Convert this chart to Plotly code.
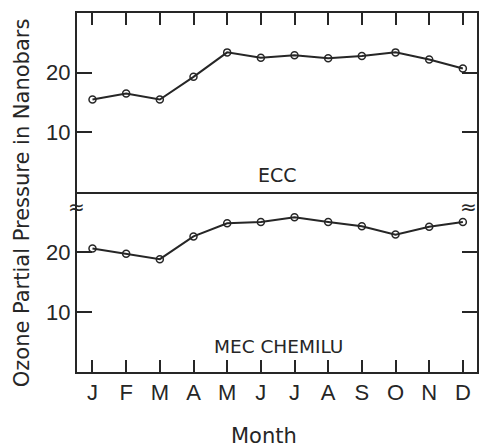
import plotly.graph_objects as go

months = ["J", "F", "M", "A", "M", "J", "J", "A", "S", "O", "N", "D"]
month_idx = list(range(12))
ecc = [15.5, 16.5, 15.5, 19.3, 23.4, 22.5, 22.9, 22.4, 22.8, 23.4, 22.2, 20.7]
mec = [20.6, 19.7, 18.8, 22.6, 24.8, 25.0, 25.8, 25.0, 24.3, 22.9, 24.2, 25.0]
ytick_vals = [10, 20]

W, H = 480, 447
L, R, T, B = 77, 479, 13, 372
MID = 192

def px(x):
    return (x - L) / (R - L)

def py(y):
    return (B - y) / (B - T)

ink = "#262626"
tickfont = dict(family="Liberation Sans Narrow, Liberation Sans, Arial, sans-serif", size=22, color=ink)
textfont = "DejaVu Sans, sans-serif"

fig = go.Figure()
marker = dict(symbol="circle-open", size=7, color=ink, line=dict(width=1.5, color=ink))
fig.add_trace(go.Scatter(x=month_idx, y=ecc, mode="lines+markers", line=dict(color=ink, width=2),
                         marker=marker, xaxis="x2", yaxis="y2", showlegend=False))
fig.add_trace(go.Scatter(x=month_idx, y=mec, mode="lines+markers", line=dict(color=ink, width=2),
                         marker=marker, xaxis="x", yaxis="y", showlegend=False))

xr = [-0.46, 11.42]
split = py(MID)
common_y = dict(range=[0, 30], tickvals=ytick_vals, ticks="inside", ticklen=15, tickwidth=1.5,
                tickcolor=ink, showline=True, linecolor=ink, linewidth=2, mirror="ticks",
                showgrid=False, zeroline=False, tickfont=tickfont, fixedrange=True)

fig.update_layout(
    width=W, height=H,
    margin=dict(l=L, r=W - R, t=T, b=H - B),
    paper_bgcolor="white", plot_bgcolor="white",
    xaxis=dict(range=xr, tickvals=month_idx, ticktext=months, ticks="inside", ticklen=12,
               tickwidth=1.5, tickcolor=ink, showline=True, linecolor=ink, linewidth=2,
               mirror=False, showgrid=False, zeroline=False, tickfont=tickfont,
               anchor="y", domain=[0, 1], ticklabelstandoff=0),
    xaxis2=dict(range=xr, tickvals=month_idx, ticks="inside", ticklen=12, tickwidth=1.5,
                tickcolor=ink, showline=True, linecolor=ink, linewidth=2, mirror=True,
                showgrid=False, zeroline=False, showticklabels=False, side="top",
                anchor="y2", domain=[0, 1]),
    yaxis=dict(domain=[0, split], anchor="x", **common_y),
    yaxis2=dict(domain=[split, 1], anchor="x2", **common_y),
)

ann = [
    dict(text="ECC", x=px(278), y=py(175), size=19),
    dict(text="MEC CHEMILU", x=px(280), y=py(346), size=18.5),
    dict(text="Month", x=px(265), y=py(436), size=21),
]
for a in ann:
    fig.add_annotation(text=a["text"], x=a["x"], y=a["y"], xref="paper", yref="paper",
                       showarrow=False, xanchor="center", yanchor="middle",
                       font=dict(family=textfont, size=a["size"], color=ink))

fig.add_annotation(text="Ozone Partial Pressure in Nanobars", x=px(22), y=py(203),
                   xref="paper", yref="paper", showarrow=False, textangle=-90,
                   xanchor="center", yanchor="middle",
                   font=dict(family=textfont, size=21, color=ink))

for bx in (76, 470):
    fig.add_annotation(text="≈", x=px(bx), y=py(207), xref="paper", yref="paper",
                       showarrow=False, xanchor="center", yanchor="middle",
                       font=dict(family=textfont, size=20, color=ink), bgcolor="rgba(0,0,0,0)")

fig.write_html("out.html")
